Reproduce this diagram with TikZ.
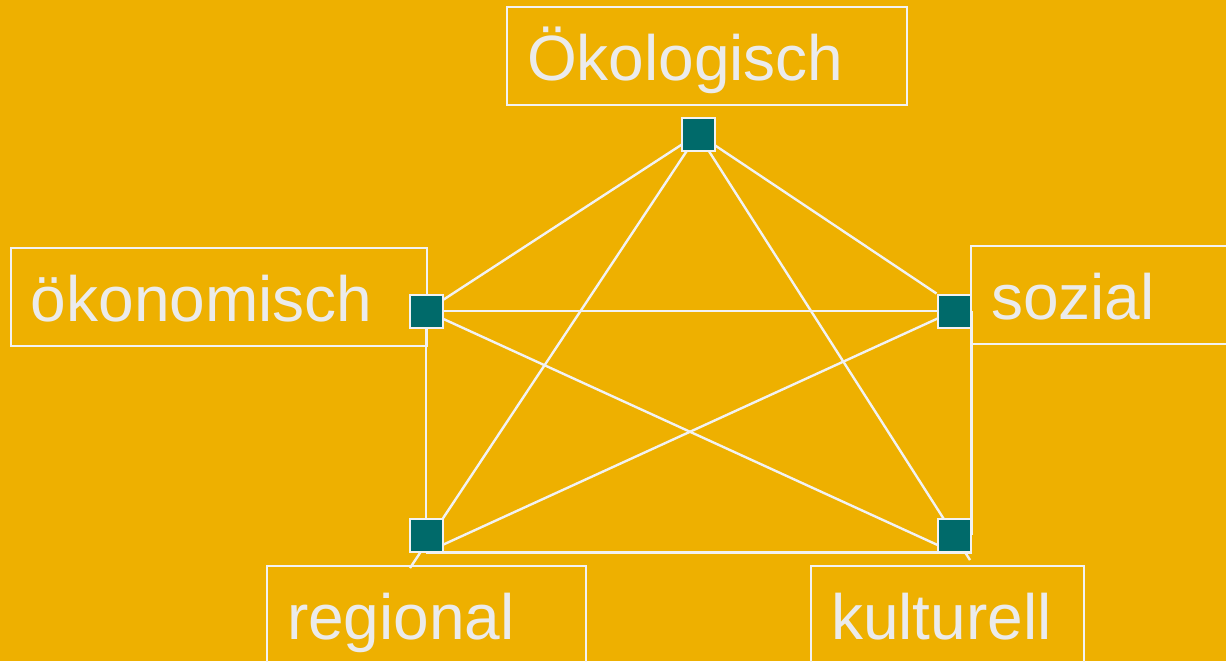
\documentclass[tikz,border=0pt]{standalone}
\usepackage{fontspec}
\setmainfont{Liberation Sans}
\usetikzlibrary{backgrounds}
\definecolor{bggold}{HTML}{EEB000}
\definecolor{sqteal}{HTML}{006A6A}
\definecolor{paleline}{HTML}{F2F2F2}
\definecolor{paletext}{HTML}{EBEBEB}
\begin{document}
\begin{tikzpicture}[x=0.5pt,y=-0.5pt,
    dim/.style={draw=paleline,line width=1pt,text=paletext,
      font=\fontsize{32}{38}\selectfont,align=left,anchor=north west,
      inner xsep=10pt,inner ysep=0pt,text height=36.5pt,text depth=12.5pt},
    knot/.style={draw=paleline,fill=sqteal,line width=1pt,
      minimum size=16.5pt,inner sep=0pt},
    link/.style={draw=paleline,line width=1.2pt}]
      \useasboundingbox (0,0) rectangle (1226,661);
      \draw
        (698,134) node[knot] (oekosq){}
        (426,311) node[knot] (oekonsq){}
        (954,311) node[knot] (sozsq){}
        (426,535) node[knot] (regsq){}
        (954,535) node[knot] (kultsq){};
      \coordinate (regend) at (410,568);
      \coordinate (kultend) at (970,560);
      \begin{pgfonlayer}{background}
        \fill[bggold] (0,0) rectangle (1226,661);
        \draw
          (506,6) node[dim,text width=180pt] (oeko){Ökologisch}
          (10,247) node[dim,text width=188pt] (oekon){ökonomisch}
          (970,245) node[dim,text width=160pt] (soz){sozial}
          (266,565) node[dim,text width=139.5pt] (reg){regional}
          (810,565) node[dim,text width=116.5pt] (kult){kulturell};
        \begin{scope}[link]
          \draw (oekosq.center) to (oekonsq.center);
          \draw (oekosq.center) to (sozsq.north west);
          \draw (oekosq.center) to (regend);
          \draw (oekosq.center) to (kultend);
          \draw (oekonsq.center) to (sozsq.center);
          \draw (oekonsq.center) to (regsq.center);
          \draw (oekonsq.center) to (kultsq.south);
          \draw (sozsq.center) to (regsq.south);
          \draw (sozsq.east) to (kultsq.east);
          \draw (regsq.south) to (kultsq.south east);
        \end{scope}
      \end{pgfonlayer}
    \end{tikzpicture}
\end{document}
